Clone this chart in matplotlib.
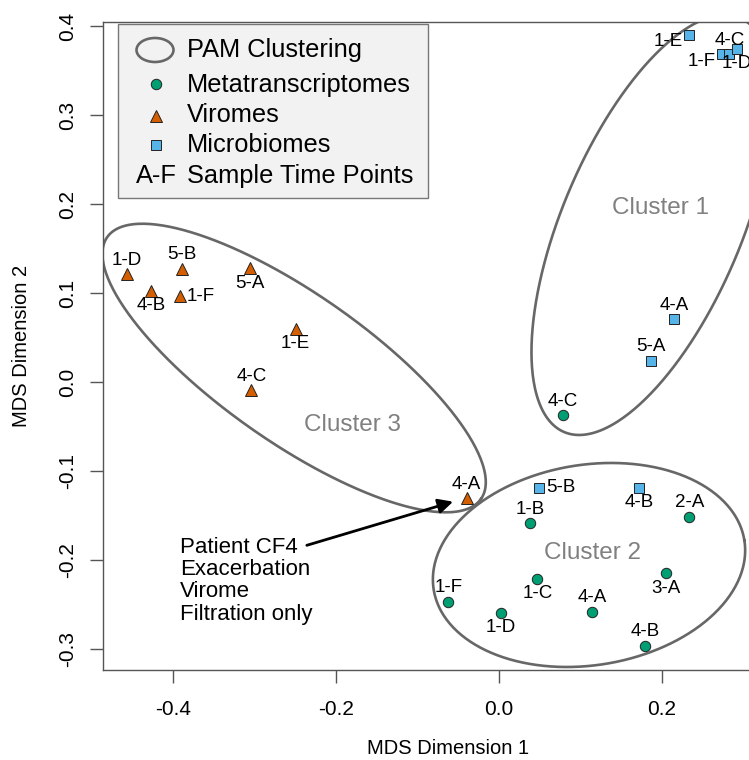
import numpy as np
import matplotlib.pyplot as plt
from matplotlib.patches import Rectangle, Ellipse

plt.rcParams['font.family'] = ['Liberation Sans', 'DejaVu Sans']
plt.rcParams['axes.unicode_minus'] = False

# --- data (MDS coordinates) ---
meta_x = [0.038, 0.2335, 0.047, 0.2045, -0.0622, 0.1145, 0.002, 0.1795, 0.0781]
meta_y = [-0.1588, -0.1513, -0.2213, -0.2150, -0.2468, -0.258, -0.2592, -0.2966, -0.0375]
meta_lab = ['1-B', '2-A', '1-C', '3-A', '1-F', '4-A', '1-D', '4-B', '4-C']
meta_pos = ['above', 'above', 'below', 'below', 'above', 'above', 'below', 'above', 'above']

vir_x = [-0.457, -0.389, -0.427, -0.392, -0.3055, -0.2495, -0.304, -0.0397]
vir_y = [0.121, 0.127, 0.1026, 0.0966, 0.128, 0.0596, -0.009, -0.1307]
vir_lab = ['1-D', '5-B', '4-B', '1-F', '5-A', '1-E', '4-C', '4-A']
vir_pos = ['above', 'above', 'below', 'right', 'below', 'below', 'above', 'above']

mic_x = [0.0491, 0.1718, 0.2151, 0.1861, 0.2335, 0.2733, 0.2826, 0.2917]
mic_y = [-0.1187, -0.1187, 0.0704, 0.0236, 0.3899, 0.3682, 0.3682, 0.3742]
mic_lab = ['5-B', '4-B', '4-A', '5-A', '1-E', '1-F', '4-C', '1-D']
mic_pos = ['right', 'below', 'above', 'above', 'left', 'left', 'above', 'below']

# PAM cluster ellipses
clus_names = ['Cluster 1', 'Cluster 2', 'Cluster 3']
clus_cx = [0.1877, 0.1104, -0.2515]
clus_cy = [0.1764, -0.2056, 0.0157]
clus_a = [0.276, 0.193, 0.280]   # semi axes, in x-axis units
clus_b = [0.110, 0.123, 0.091]
clus_angle = [67, 9, -35]        # degrees as seen on the page
clus_lab_x = [0.1975, 0.115, -0.1804]
clus_lab_y = [0.1955, -0.1925, -0.0483]

note_text = 'Patient CF4\nExacerbation\nVirome\nFiltration only'
note_xy = (-0.3914, -0.2234)
arrow_from = (-0.2359, -0.1835)
arrow_to = (-0.0564, -0.1345)

GREEN, ORANGE, BLUE = '#009E73', '#D55E00', '#56B4E9'
W, H = 749, 760

fig = plt.figure(figsize=(W / 100, H / 100), dpi=100)
ax = fig.add_axes([103 / W, 90 / H, 690 / W, 648 / H])
xmin, xmax = -0.486, 0.3607
ymin, ymax = -0.3236, 0.4045
ax.set_xlim(xmin, xmax)
ax.set_ylim(ymin, ymax)


def px(x, y):
    # pixel position (from top-left) -> figure fraction
    return x / W, 1 - y / H


# ellipses, drawn in page pixels then mapped back to data
sx = 690 / (xmax - xmin)
sy = 648 / (ymax - ymin)
t = np.linspace(0, 2 * np.pi, 400)
for i in range(3):
    th = np.deg2rad(clus_angle[i])
    a, b = clus_a[i] * sx, clus_b[i] * sx
    dxp = a * np.cos(t) * np.cos(th) - b * np.sin(t) * np.sin(th)
    dyp = a * np.cos(t) * np.sin(th) + b * np.sin(t) * np.cos(th)
    ax.plot(clus_cx[i] + dxp / sx, clus_cy[i] + dyp / sy, color='#676767', lw=1.9, zorder=2)
    ax.text(clus_lab_x[i], clus_lab_y[i], clus_names[i], color='#808080', fontsize=17.5,
            ha='center', va='center', zorder=3)

offsets = {'above': ((0, 14), 'center'), 'below': ((0, -15), 'center'),
           'left': ((-6, -7), 'right'), 'right': ((7, 0), 'left')}


def draw_group(xs, ys, labs, pos, marker, color, ms):
    ax.plot(xs, ys, ls='none', marker=marker, ms=ms, mfc=color, mec='#222222', mew=0.7, zorder=4)
    for x, y, lab, p in zip(xs, ys, labs, pos):
        off, ha = offsets[p]
        ax.annotate(lab, (x, y), xytext=off, textcoords='offset pixels', ha=ha, va='center',
                    fontsize=13.5, zorder=5)


draw_group(meta_x, meta_y, meta_lab, meta_pos, 'o', GREEN, 7.5)
draw_group(vir_x, vir_y, vir_lab, vir_pos, '^', ORANGE, 9)
draw_group(mic_x, mic_y, mic_lab, mic_pos, 's', BLUE, 7)

ax.annotate('', xy=arrow_to, xytext=arrow_from,
            arrowprops=dict(arrowstyle='-|>', color='black', lw=2, mutation_scale=22,
                            shrinkA=0, shrinkB=0), zorder=6)
ax.text(note_xy[0], note_xy[1], note_text, fontsize=16, ha='left', va='center', linespacing=1.08)

# axes styling (R base look)
for s in ['top', 'left', 'bottom']:
    ax.spines[s].set_color('#555555')
    ax.spines[s].set_linewidth(1)
ax.spines['right'].set_visible(False)
xt = [-0.4, -0.2, 0.0, 0.2]
yt = [-0.3, -0.2, -0.1, 0.0, 0.1, 0.2, 0.3, 0.4]
ax.set_xticks(xt)
ax.set_xticklabels([f'{v:.1f}' for v in xt])
ax.set_yticks(yt)
ax.set_yticklabels([f'{v:.1f}' for v in yt], rotation=90, va='center')
ax.tick_params(axis='both', length=9.5, width=1, color='#555555', labelsize=15)
ax.tick_params(axis='x', pad=12)
ax.tick_params(axis='y', pad=9)

fig.text(*px(448, 748), 'MDS Dimension 1', ha='center', va='center', fontsize=14.5)
fig.text(*px(22, 346), 'MDS Dimension 2', ha='center', va='center', fontsize=14.5, rotation=90)

# legend, built by hand
ax.add_patch(Rectangle(px(118, 198), 310 / W, 174 / H, transform=fig.transFigure,
                       fc='#f2f2f2', ec='#777777', lw=1, zorder=7, clip_on=False))
ax.add_patch(Ellipse(px(155, 50), 37 / W, 24 / H, transform=fig.transFigure,
                     fc='none', ec='#676767', lw=1.9, zorder=8, clip_on=False))
for (mx, my), mk, col, ms in [((156, 84), 'o', GREEN, 7.5), ((156, 116), '^', ORANGE, 9),
                               ((156, 145), 's', BLUE, 7)]:
    ax.plot(*px(mx, my), marker=mk, ms=ms, mfc=col, mec='#222222', mew=0.7,
            transform=fig.transFigure, clip_on=False, zorder=8)
leg_text = ['PAM Clustering', 'Metatranscriptomes', 'Viromes', 'Microbiomes', 'Sample Time Points']
leg_base = [56.7, 91.7, 121.7, 151.7, 182.7]
for txt, yb in zip(leg_text, leg_base):
    fig.text(*px(187, yb), txt, fontsize=18.3, va='baseline', ha='left', zorder=9)
fig.text(*px(136, 182.7), 'A-F', fontsize=18.3, va='baseline', ha='left', zorder=9)

fig.savefig('out.png', dpi=100)
